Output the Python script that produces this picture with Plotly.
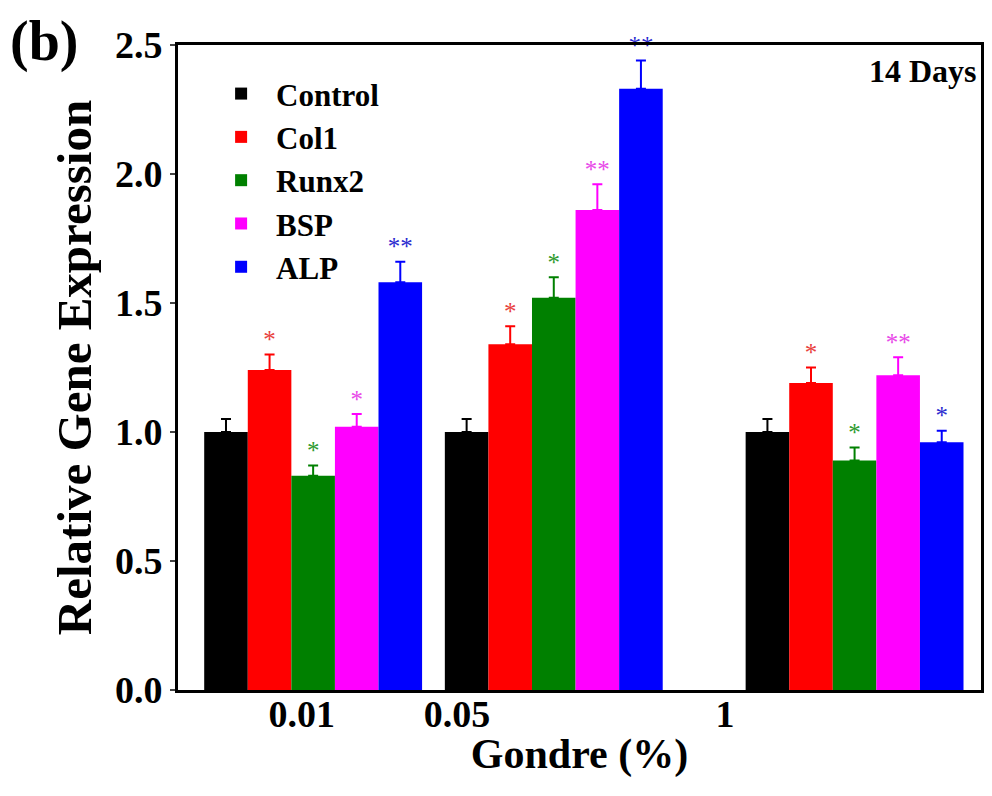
import plotly.graph_objects as go

# ---- data ----
series = ["Control", "Col1", "Runx2", "BSP", "ALP"]
colors = ["#000000", "#FF0000", "#008000", "#FF00FF", "#0000FF"]
star_colors = ["#000000", "#E8403C", "#2E9A2E", "#E84AE8", "#2A2ACF"]
group_x = [3.10, 8.62, 15.52]
tick_x = [2.84, 6.40, 12.55]
tick_text = ["0.01", "0.05", "1"]

values = {
    "Control": [1.00, 1.00, 1.00],
    "Col1":    [1.24, 1.34, 1.19],
    "Runx2":   [0.83, 1.52, 0.89],
    "BSP":     [1.02, 1.86, 1.22],
    "ALP":     [1.58, 2.33, 0.96],
}
errors = {
    "Control": [0.05, 0.05, 0.05],
    "Col1":    [0.06, 0.07, 0.06],
    "Runx2":   [0.04, 0.08, 0.05],
    "BSP":     [0.05, 0.10, 0.07],
    "ALP":     [0.08, 0.11, 0.045],
}
stars = {
    "Control": ["", "", ""],
    "Col1":    ["*", "*", "*"],
    "Runx2":   ["*", "*", "*"],
    "BSP":     ["*", "**", "**"],
    "ALP":     ["**", "**", "*"],
}

FONT = "Liberation Serif"

fig = go.Figure()
for name, col in zip(series, colors):
    fig.add_trace(go.Bar(
        x=group_x, y=values[name], name=name, offsetgroup=name,
        marker=dict(color=col, line=dict(width=0)),
        error_y=dict(type="data", symmetric=False, array=errors[name],
                     arrayminus=[0] * len(group_x), color=col,
                     thickness=2, width=5),
    ))
for name, scol in zip(series, star_colors):
    tops = [v + e for v, e in zip(values[name], errors[name])]
    fig.add_trace(go.Scatter(
        x=group_x, y=tops, mode="text", text=stars[name],
        textposition="top center", offsetgroup=name, showlegend=False,
        textfont=dict(family=FONT, size=25, color=scol),
        hoverinfo="skip", cliponaxis=False,
    ))

fig.update_layout(
    width=984, height=770,
    barmode="group", scattermode="group",
    bargap=0.0946, bargroupgap=0, scattergap=0.0946,
    plot_bgcolor="white", paper_bgcolor="white",
    margin=dict(l=170, r=11, t=37, b=88, autoexpand=False),
    font=dict(family=FONT, color="black"),
    legend=dict(x=0.035, y=0.966, xanchor="left", yanchor="top",
                font=dict(family=FONT, size=31, color="black", weight="bold"),
                bgcolor="rgba(0,0,0,0)", itemwidth=60, tracegroupgap=0),
    showlegend=True,
)
fig.update_xaxes(
    range=[0, 18.42], tickmode="array", tickvals=tick_x, ticktext=tick_text,
    ticks="", showgrid=False, zeroline=False, automargin=False,
    ticklabelstandoff=-12,
    showline=True, linecolor="black", linewidth=3, mirror=True,
    tickfont=dict(family=FONT, size=38, weight="bold"),
    title=dict(text="Gondre (%)", font=dict(family=FONT, size=42, weight="bold"), standoff=0),
)
fig.update_yaxes(
    range=[0, 2.5], tickvals=[0, 0.5, 1.0, 1.5, 2.0, 2.5], tickformat=".1f",
    ticks="outside", ticklen=5, tickwidth=2, showgrid=False, zeroline=False,
    automargin=False,
    showline=True, linecolor="black", linewidth=3, mirror="allticks",
    tickfont=dict(family=FONT, size=38, weight="bold"),
    title=dict(text="Relative Gene Expression", font=dict(family=FONT, size=49, weight="bold"), standoff=8),
)
fig.add_annotation(text="14 Days", xref="paper", yref="paper", x=0.998, y=0.99,
                   xanchor="right", yanchor="top", showarrow=False,
                   font=dict(family=FONT, size=32, color="black", weight="bold"))
fig.add_annotation(text="(b)", xref="paper", yref="paper", x=-0.2118, y=1.058,
                   xanchor="left", yanchor="top", showarrow=False,
                   font=dict(family=FONT, size=56, color="black", weight="bold"))

fig.write_html("out.html")
